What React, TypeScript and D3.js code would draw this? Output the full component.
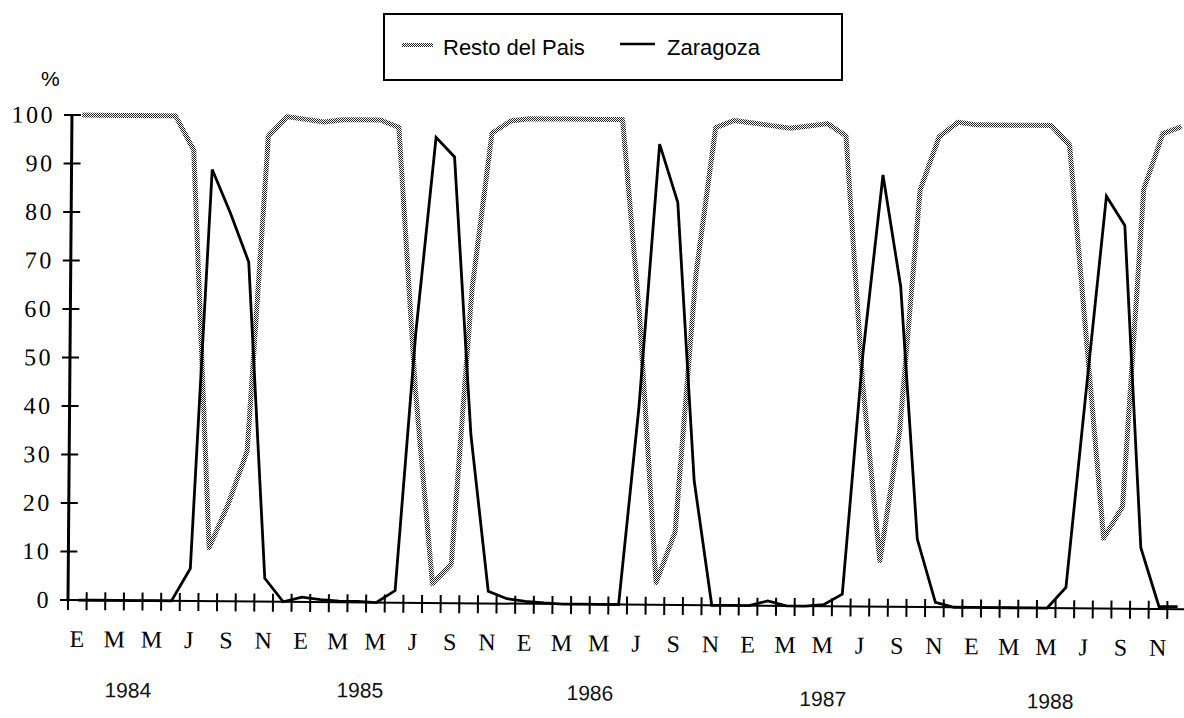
import { useEffect, useRef } from "react";
import * as d3 from "d3";

// monthly share (%) Jan 1984 - Dec 1988
const years = ["1984", "1985", "1986", "1987", "1988"];
const monthLabels = ["E", "M", "M", "J", "S", "N"]; // every second month
const yTicks = [0, 10, 20, 30, 40, 50, 60, 70, 80, 90, 100];
const seriesNames = ["Resto del Pais", "Zaragoza"];

const restoDelPais = [
  100, 100, 100, 100, 100, 100, 93, 11, 20, 31, 96, 100,
  99.5, 99, 99.5, 99.5, 99.5, 98, 44, 4, 8, 65, 97, 99.5,
  100, 100, 100, 100, 100, 100, 59.5, 4.6, 15, 68, 98.5, 100,
  99.5, 99, 98.5, 99, 99.5, 97, 46, 9.5, 36, 86, 97, 100,
  99.5, 99.5, 99.5, 99.5, 99.5, 95.5, 55, 14.5, 21, 86.5, 98, 99.5,
];

const zaragoza = [
  0, 0, 0, 0, 0, 0, 6.7, 89, 80, 70, 4.8, 0,
  1, 0.5, 0.2, 0.2, 0, 2.5, 55.8, 96, 92, 34.7, 2.5, 1,
  0.5, 0.2, 0, 0, 0, 0, 40.5, 95, 83, 25.7, 0, 0,
  0, 1, 0, 0, 0.3, 2.5, 52, 89, 66, 14, 1, 0,
  0, 0, 0, 0, 0, 4.3, 45, 85, 79, 12.6, 0.5, 0.5,
];

export default function App() {
  const svgRef = useRef<SVGSVGElement>(null);

  useEffect(() => {
    document.body.style.margin = "0";
    const width = 1184;
    const height = 718;
    const tilt = 0.47; // the scan is slightly rotated

    const svg = d3.select(svgRef.current).attr("width", width).attr("height", height);
    svg.selectAll("*").remove();

    const nMonths = zaragoza.length;
    const x = d3.scaleLinear().domain([0, nMonths]).range([68, 1186]);
    const y = d3.scaleLinear().domain([0, 100]).range([600, 115]);
    const mid = (i: number) => x(i + 0.55);

    // checker pattern for the dotted "Resto del Pais" line
    const defs = svg.append("defs");
    const makeChecker = (id: string, transform: string | null) => {
      const pat = defs
        .append("pattern")
        .attr("id", id)
        .attr("patternUnits", "userSpaceOnUse")
        .attr("width", 2)
        .attr("height", 2);
      if (transform) pat.attr("patternTransform", transform);
      pat.append("rect").attr("width", 2).attr("height", 2).attr("fill", "#fff");
      pat.append("rect").attr("width", 1).attr("height", 1).attr("fill", "#222");
      pat.append("rect").attr("x", 1).attr("y", 1).attr("width", 1).attr("height", 1).attr("fill", "#222");
    };
    makeChecker("checker", `rotate(${-tilt}, 68, 600)`);
    makeChecker("checkerFlat", null);

    svg.append("rect").attr("width", width).attr("height", height).attr("fill", "#fff");

    const g = svg.append("g").attr("transform", `rotate(${tilt}, 68, 600)`);

    // y axis
    g.append("line")
      .attr("x1", x(0))
      .attr("x2", x(0))
      .attr("y1", y(0))
      .attr("y2", y(100))
      .attr("stroke", "#000")
      .attr("stroke-width", 3);

    g.selectAll(".ytick")
      .data(yTicks)
      .join("line")
      .attr("class", "ytick")
      .attr("x1", x(0) - 8)
      .attr("x2", x(0) + 9)
      .attr("y1", (d) => y(d))
      .attr("y2", (d) => y(d))
      .attr("stroke", "#000")
      .attr("stroke-width", 2);

    g.selectAll(".ylab")
      .data(yTicks)
      .join("text")
      .attr("class", "ylab")
      .attr("x", 51)
      .attr("y", (d) => y(d) + 8)
      .attr("text-anchor", "end")
      .attr("font-family", "Liberation Serif, serif")
      .attr("font-size", 24)
      .attr("letter-spacing", 2.5)
      .text((d) => d);

    // x axis
    g.append("line")
      .attr("x1", x(0))
      .attr("x2", x(nMonths))
      .attr("y1", y(0))
      .attr("y2", y(0))
      .attr("stroke", "#000")
      .attr("stroke-width", 2);

    g.selectAll(".xtick")
      .data(d3.range(nMonths + 1))
      .join("line")
      .attr("class", "xtick")
      .attr("x1", (d) => x(d))
      .attr("x2", (d) => x(d))
      .attr("y1", y(0) - 8)
      .attr("y2", y(0) + 10)
      .attr("stroke", "#000")
      .attr("stroke-width", 2);

    g.selectAll(".xlab")
      .data(d3.range(0, nMonths, 2))
      .join("text")
      .attr("class", "xlab")
      .attr("x", (d) => x(d + 0.5))
      .attr("y", 647)
      .attr("text-anchor", "middle")
      .attr("font-family", "Liberation Serif, serif")
      .attr("font-size", 24)
      .text((d) => monthLabels[(d % 12) / 2]);

    const yearShift = [0, 0.45, 0.8, 1.3, 1.5];
    const yearDy = [0, -2, -1, 3, 3.5];
    g.selectAll(".year")
      .data(years)
      .join("text")
      .attr("class", "year")
      .attr("x", (d, k) => x(12 * k + 3.25 + yearShift[k]))
      .attr("y", (d, k) => 697 + yearDy[k])
      .attr("text-anchor", "middle")
      .attr("font-family", "Liberation Sans, Arial, sans-serif")
      .attr("font-size", 21)
      .attr("fill", "#111")
      .text((d) => d);

    // series
    const line = d3
      .line<number>()
      .x((d, i) => mid(i))
      .y((d) => y(d));

    g.append("path")
      .datum(restoDelPais)
      .attr("d", line)
      .attr("fill", "none")
      .attr("stroke", "url(#checker)")
      .attr("stroke-width", 5)
      .attr("stroke-linejoin", "round");

    g.append("path")
      .datum(zaragoza)
      .attr("d", line)
      .attr("fill", "none")
      .attr("stroke", "#000")
      .attr("stroke-width", 2.8)
      .attr("stroke-linejoin", "miter");

    // "%" unit label
    svg.append("text")
      .attr("x", 41)
      .attr("y", 86)
      .attr("font-family", "Liberation Sans, Arial, sans-serif")
      .attr("font-size", 21)
      .text("%");

    // legend
    const lg = svg.append("g");
    lg.append("rect")
      .attr("x", 384)
      .attr("y", 14)
      .attr("width", 458)
      .attr("height", 66)
      .attr("fill", "#fff")
      .attr("stroke", "#000")
      .attr("stroke-width", 2);

    lg.append("rect")
      .attr("x", 402)
      .attr("y", 43)
      .attr("width", 31)
      .attr("height", 4)
      .attr("fill", "url(#checkerFlat)");
    lg.append("text")
      .attr("x", 443)
      .attr("y", 55)
      .attr("font-family", "Liberation Sans, Arial, sans-serif")
      .attr("font-size", 22)
      .text(seriesNames[0]);

    lg.append("line")
      .attr("x1", 620)
      .attr("x2", 655)
      .attr("y1", 44)
      .attr("y2", 44)
      .attr("stroke", "#000")
      .attr("stroke-width", 2.5);
    lg.append("text")
      .attr("x", 667)
      .attr("y", 55)
      .attr("font-family", "Liberation Sans, Arial, sans-serif")
      .attr("font-size", 22)
      .text(seriesNames[1]);
  }, []);

  return <svg ref={svgRef} style={{ display: "block" }}></svg>;
}
